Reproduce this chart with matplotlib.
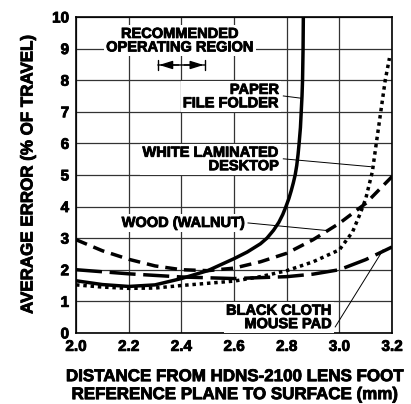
import matplotlib
matplotlib.use("Agg")
from matplotlib import pyplot as plt
from matplotlib import patheffects as pe

# curves
paper_x = [2.0, 2.1, 2.2, 2.3, 2.4, 2.5, 2.6, 2.65, 2.7, 2.725, 2.75, 2.77, 2.785, 2.797, 2.808,
           2.817, 2.825, 2.832, 2.838, 2.843, 2.847, 2.852, 2.855, 2.858, 2.86, 2.862, 2.863]
paper_y = [1.65, 1.53, 1.47, 1.52, 1.72, 1.97, 2.35, 2.56, 2.82, 3.0, 3.25, 3.5, 3.75, 4.0, 4.25,
           4.5, 4.75, 5.0, 5.3, 5.65, 6.0, 6.5, 7.0, 7.5, 8.0, 9.0, 10.0]

white_x = [2.0, 2.1, 2.2, 2.3, 2.4, 2.5, 2.6, 2.7, 2.8, 2.9, 3.0, 3.05, 3.08, 3.1, 3.125, 3.14, 3.157, 3.174, 3.19]
white_y = [1.52, 1.45, 1.41, 1.42, 1.5, 1.57, 1.64, 1.78, 1.97, 2.25, 2.63, 3.2, 3.8, 4.25, 5.1, 6.0, 7.0, 8.0, 8.7]

wood_x = [2.0, 2.1, 2.2, 2.3, 2.4, 2.5, 2.6, 2.7, 2.8, 2.9, 3.0, 3.1, 3.2]
wood_y = [2.95, 2.6, 2.33, 2.12, 2.0, 1.97, 2.05, 2.25, 2.52, 2.95, 3.47, 4.1, 4.95]

cloth_x = [2.0, 2.2, 2.4, 2.6, 2.8, 2.9, 3.0, 3.1, 3.2]
cloth_y = [2.0, 1.87, 1.77, 1.72, 1.78, 1.86, 2.0, 2.32, 2.72]

x_ticks = [2.0, 2.2, 2.4, 2.6, 2.8, 3.0, 3.2]
y_ticks = list(range(0, 11))

plt.rcParams['font.family'] = ['Liberation Sans', 'DejaVu Sans']
plt.rcParams['font.weight'] = 'bold'

heavy = [pe.withStroke(linewidth=0.6, foreground='black')]

fig = plt.figure(figsize=(4.11, 4.04), dpi=100)
ax = fig.add_axes([0.185, 0.176, 0.769, 0.782])

lw = 2.5
ax.plot(paper_x, paper_y, color='black', lw=lw, solid_capstyle='butt', solid_joinstyle='round', zorder=3)
ax.plot(white_x, white_y, color='black', lw=lw, dashes=(1.0, 1.1), dash_capstyle='butt', zorder=3)
ax.plot(wood_x, wood_y, color='black', lw=lw, dashes=(3.4, 2.0), dash_capstyle='butt', zorder=3)
ax.plot(cloth_x, cloth_y, color='black', lw=lw, dashes=(7.5, 2.2), dash_capstyle='butt', zorder=3)

ax.set_xlim(2.0, 3.2)
ax.set_ylim(0, 10)
ax.set_xticks(x_ticks)
ax.set_xticklabels(['%.1f' % v for v in x_ticks])
ax.set_yticks(y_ticks)
ax.tick_params(length=0, labelsize=11, pad=5)
for lab in ax.get_xticklabels() + ax.get_yticklabels():
    lab.set_path_effects(heavy)
ax.grid(True, color='#333333', lw=0.9, zorder=1)
ax.set_axisbelow(True)
for s in ax.spines.values():
    s.set_linewidth(1.2)

ax.set_ylabel('AVERAGE ERROR (% OF TRAVEL)', fontsize=12.2, fontweight='bold', labelpad=12,
              path_effects=heavy)
ax.set_xlabel('DISTANCE FROM HDNS-2100 LENS FOOT\nREFERENCE PLANE TO SURFACE (mm)',
              fontsize=12.2, fontweight='bold', labelpad=11, linespacing=1.25,
              path_effects=heavy)

box = dict(facecolor='white', edgecolor='none', pad=1.5)
tkw = dict(fontsize=10.5, fontweight='bold', linespacing=0.95, bbox=box, zorder=4,
           path_effects=heavy)

ax.text(2.395, 9.25, 'RECOMMENDED\nOPERATING REGION', ha='center', va='center', **tkw)
ax.annotate('', xy=(2.3, 8.48), xytext=(2.5, 8.48),
            arrowprops=dict(arrowstyle='|-|,widthA=0.35,widthB=0.35', color='black', lw=1.0))
ax.annotate('', xy=(2.305, 8.48), xytext=(2.4, 8.48),
            arrowprops=dict(arrowstyle='-|>,head_length=0.8,head_width=0.25', color='black', lw=1.0))
ax.annotate('', xy=(2.495, 8.48), xytext=(2.4, 8.48),
            arrowprops=dict(arrowstyle='-|>,head_length=0.8,head_width=0.25', color='black', lw=1.0))

ax.text(2.771, 7.48, 'PAPER\nFILE FOLDER', ha='right', va='center', multialignment='right', **tkw)
ax.plot([2.787, 2.853], [7.50, 7.43], color='black', lw=0.7, zorder=4)

ax.text(2.771, 5.49, 'WHITE LAMINATED\nDESKTOP', ha='right', va='center', multialignment='right', **tkw)
ax.plot([2.787, 3.12], [5.51, 5.26], color='black', lw=0.7, zorder=4)

ax.text(2.408, 3.48, 'WOOD (WALNUT)', ha='center', va='center', **tkw)
ax.plot([2.653, 2.953], [3.48, 3.24], color='black', lw=0.7, zorder=4)

ax.text(2.972, 0.49, 'BLACK CLOTH\nMOUSE PAD', ha='right', va='center', multialignment='right', **tkw)
ax.plot([2.984, 3.166], [0.19, 2.63], color='black', lw=0.7, zorder=4)

fig.savefig('out.png', dpi=100)
